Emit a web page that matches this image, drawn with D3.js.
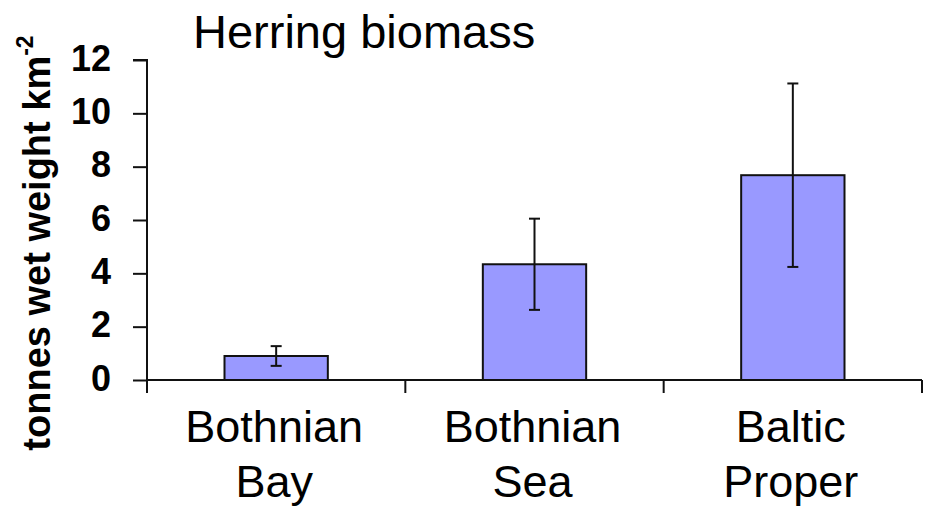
<!DOCTYPE html>
<html>
<head>
<meta charset="utf-8">
<script src="https://cdn.jsdelivr.net/npm/d3@7"></script>
<style>
  html, body { margin: 0; padding: 0; background: #fff; }
  svg { display: block; }
</style>
</head>
<body>
<svg id="chart" width="926" height="516"></svg>
<script>
// Herring biomass by basin (tonnes wet weight per km²), mean ± error
const categories = [["Bothnian", "Bay"], ["Bothnian", "Sea"], ["Baltic", "Proper"]];
const biomass = [0.9, 4.34, 7.68];
const errors = [0.37, 1.71, 3.44];
const yTicks = [0, 2, 4, 6, 8, 10, 12];

const svg = d3.select("#chart");
const plotLeft = 147, plotRight = 922, plotTop = 60, plotBottom = 380;
const ink = "#111";
const lw = 2;

const keys = categories.map(c => c.join(" "));
const x = d3.scaleBand().domain(keys).range([plotLeft, plotRight])
  .paddingInner(0.6).paddingOuter(0.3);
const y = d3.scaleLinear().domain([0, 12]).range([plotBottom, plotTop]);

const step = x.step();
const gap = step - x.bandwidth();

// Bars
svg.append("g").selectAll("rect").data(biomass).join("rect")
  .attr("x", (d, i) => x(keys[i]))
  .attr("y", d => y(d))
  .attr("width", x.bandwidth())
  .attr("height", d => y(0) - y(d))
  .attr("fill", "#9999ff")
  .attr("stroke", ink)
  .attr("stroke-width", lw);

// Error bars
const eb = svg.append("g").attr("stroke", ink).attr("stroke-width", lw);
biomass.forEach((v, i) => {
  const cx = x(keys[i]) + x.bandwidth() / 2;
  const hi = y(v + errors[i]), lo = y(v - errors[i]);
  eb.append("line").attr("x1", cx).attr("x2", cx).attr("y1", hi).attr("y2", lo);
  eb.append("line").attr("x1", cx - 5.5).attr("x2", cx + 5.5).attr("y1", hi).attr("y2", hi);
  eb.append("line").attr("x1", cx - 5.5).attr("x2", cx + 5.5).attr("y1", lo).attr("y2", lo);
});

// Y axis
const yAxis = d3.axisLeft(y).tickValues(yTicks).tickSize(14).tickPadding(22);
const gy = svg.append("g").attr("transform", `translate(${plotLeft},0)`).call(yAxis);
gy.select(".domain").attr("stroke", ink).attr("stroke-width", lw)
  .attr("d", `M-14,${plotTop}H0V${plotBottom + 13}`);
gy.selectAll(".tick line").attr("stroke", ink).attr("stroke-width", lw);
gy.selectAll(".tick text")
  .attr("fill", "#000")
  .attr("font-family", "'Liberation Sans', Arial, sans-serif")
  .attr("font-weight", "bold")
  .attr("font-size", 36)
  .attr("dy", "0.28em");

// X axis with ticks at category boundaries
const gx = svg.append("g");
gx.append("line").attr("x1", plotLeft).attr("x2", plotRight).attr("y1", y(0)).attr("y2", y(0))
  .attr("stroke", ink).attr("stroke-width", lw);
const bounds = keys.map(k => x(k) - gap / 2).concat([x(keys[keys.length - 1]) + x.bandwidth() + gap / 2]);
gx.selectAll("line.tk").data(bounds.slice(1)).join("line").attr("class", "tk")
  .attr("x1", d => d).attr("x2", d => d)
  .attr("y1", y(0)).attr("y2", y(0) + 13)
  .attr("stroke", ink).attr("stroke-width", lw);

// Category labels (two lines each)
const lbl = gx.selectAll("text.cat").data(categories).join("text").attr("class", "cat")
  .attr("text-anchor", "middle")
  .attr("font-family", "'Liberation Sans', Arial, sans-serif")
  .attr("font-size", 45)
  .attr("fill", "#000");
lbl.each(function (d, i) {
  const cx = x(keys[i]) + x.bandwidth() / 2 - 2;
  d3.select(this).selectAll("tspan").data(d).join("tspan")
    .attr("x", cx)
    .attr("y", (t, j) => 442 + j * 55)
    .text(t => t);
});

// Y axis title
const yt = svg.append("text")
  .attr("transform", "translate(50,243) rotate(-90)")
  .attr("text-anchor", "middle")
  .attr("font-family", "'Liberation Sans', Arial, sans-serif")
  .attr("font-weight", "bold")
  .attr("font-size", 38)
  .attr("fill", "#000");
yt.append("tspan").text("tonnes wet weight km");
yt.append("tspan").attr("font-size", 23).attr("dy", -17).text("-2");

// Chart title
svg.append("text")
  .attr("x", 193).attr("y", 48)
  .attr("font-family", "'Liberation Sans', Arial, sans-serif")
  .attr("font-size", 47)
  .attr("fill", "#000")
  .text("Herring biomass");
</script>
</body>
</html>
